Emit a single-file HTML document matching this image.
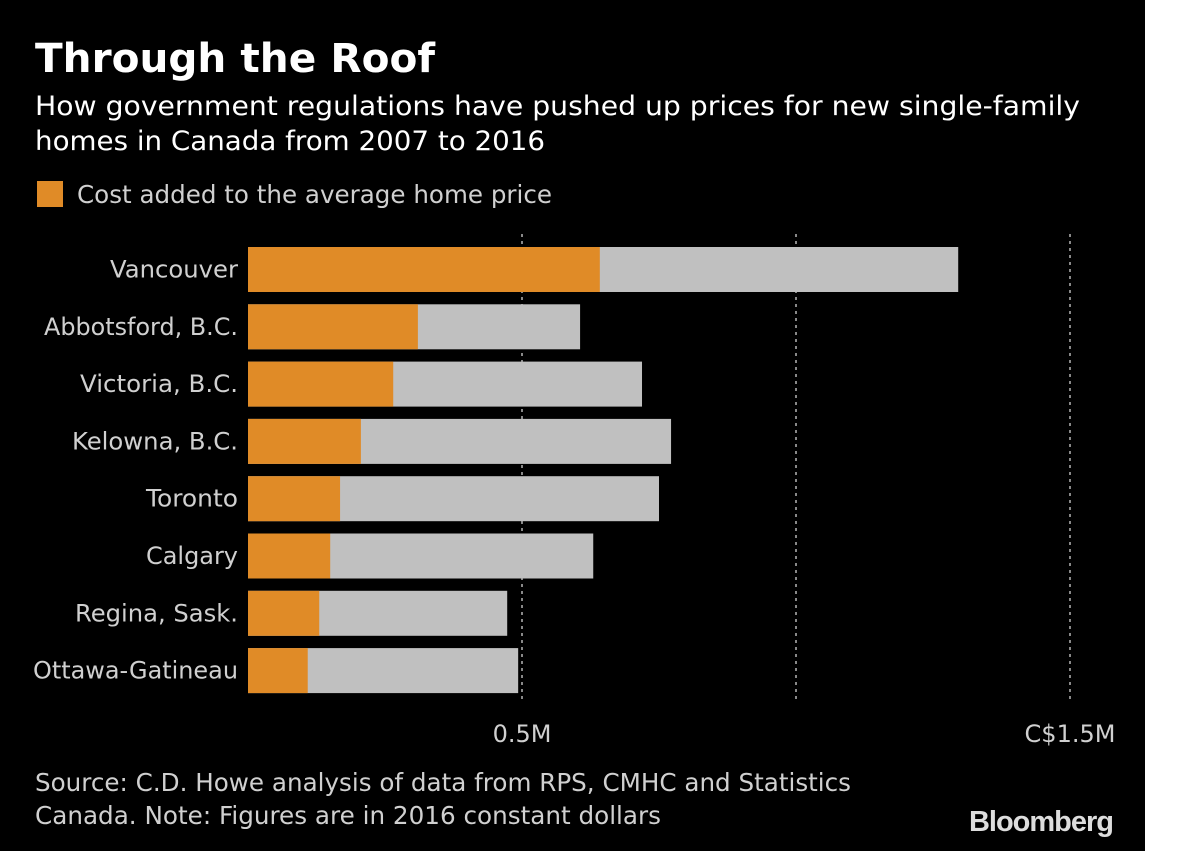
<!DOCTYPE html>
<html><head><meta charset="utf-8"><style>
body{margin:0;background:#fff;}
svg{display:block;font-family:"DejaVu Sans","Liberation Sans",sans-serif;}
</style></head><body>
<svg id="chart" width="1200" height="851">
<rect x="0" y="0" width="1145" height="851" fill="#000"/>
<text x="35" y="72" fill="#fff" font-size="40" font-weight="bold" textLength="400" lengthAdjust="spacingAndGlyphs">Through the Roof</text>
<text x="35" y="115" fill="#fff" font-size="27" textLength="1045" lengthAdjust="spacingAndGlyphs">How government regulations have pushed up prices for new single-family</text>
<text x="35" y="150" fill="#fff" font-size="27" textLength="510" lengthAdjust="spacingAndGlyphs">homes in Canada from 2007 to 2016</text>
<rect x="37" y="181" width="26" height="26" fill="#e08b27"/>
<text x="77" y="203" fill="#d0d0d0" font-size="25" textLength="475" lengthAdjust="spacingAndGlyphs">Cost added to the average home price</text>
<g id="grid"></g>
<g id="bars"></g>
<g id="ticks"></g>
<text x="35" y="791" fill="#d0d0d0" font-size="25" textLength="816" lengthAdjust="spacingAndGlyphs">Source: C.D. Howe analysis of data from RPS, CMHC and Statistics</text>
<text x="35" y="824" fill="#d0d0d0" font-size="25" textLength="626" lengthAdjust="spacingAndGlyphs">Canada. Note: Figures are in 2016 constant dollars</text>
<text x="1113" y="831" fill="#ddd" font-size="29" font-weight="bold" text-anchor="end" letter-spacing="-1" font-family="Liberation Sans">Bloomberg</text>
</svg>
<script>
const categories=["Vancouver","Abbotsford, B.C.","Victoria, B.C.","Kelowna, B.C.","Toronto","Calgary","Regina, Sask.","Ottawa-Gatineau"];
const addedCost=[0.642,0.310,0.265,0.206,0.168,0.150,0.130,0.109];
const totalPrice=[1.296,0.606,0.719,0.772,0.750,0.630,0.473,0.493];
const gridValues=[0.5,1.0,1.5];
const tickValues=[0.5,1.5];
const tickLabels=["0.5M","C$1.5M"];
const labelWidths=[128,194,158,166,92,92,163,205];
const NS="http://www.w3.org/2000/svg";
const x=v=>248+v*548;
const yTop=i=>247+i*57.3;
const bh=45;
function mk(tag,attrs,parent){const e=document.createElementNS(NS,tag);for(const k in attrs)e.setAttribute(k,attrs[k]);document.getElementById(parent).appendChild(e);return e;}
gridValues.forEach(v=>{
  const l=mk("line",{x1:x(v),x2:x(v),y1:234,y2:700,stroke:"#888","stroke-width":2,"stroke-dasharray":"3,4"},"grid");
  
  
});
categories.forEach((c,i)=>{
  const t=mk("rect",{x:x(0),y:yTop(i),width:x(totalPrice[i])-x(0),height:bh,fill:"#c0c0c0"},"bars");
  
  
  const a=mk("rect",{x:x(0),y:yTop(i),width:x(addedCost[i])-x(0),height:bh,fill:"#e08b27"},"bars");
  
  
  const tx=mk("text",{x:238,y:yTop(i)+bh/2+8,fill:"#d0d0d0","font-size":24,"text-anchor":"end",textLength:labelWidths[i],lengthAdjust:"spacingAndGlyphs"},"bars");
  tx.textContent=c;
  
  
});
tickValues.forEach((v,i)=>{
  const t=mk("text",{x:x(v),y:742,fill:"#d0d0d0","font-size":24,"text-anchor":"middle"},"ticks");
  t.textContent=tickLabels[i];
  
  
});
</script>
</body></html>
